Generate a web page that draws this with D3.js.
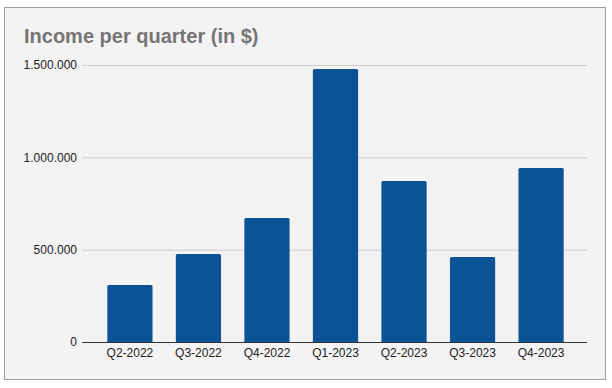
<!DOCTYPE html>
<meta charset="utf-8">
<style>
body {
  margin: 0;
  background: #fff;
  font-family: "Liberation Sans", Arial, sans-serif;
}
.grid line {
  stroke: #cccccc;
  stroke-width: 1px;
}
.tick text {
  fill: #222;
  font-size: 12px;
}
</style>
<body>
<script src="https://cdn.jsdelivr.net/npm/d3@7"></script>
<script>
var width = 612,
    height = 388;

var quarters = ["Q2-2022", "Q3-2022", "Q4-2022", "Q1-2023", "Q2-2023", "Q3-2023", "Q4-2023"];
var income = [309000, 477000, 672000, 1479000, 872000, 460000, 942000];
var yTicks = [0, 500000, 1000000, 1500000];

var margin = {top: 65, right: 25, bottom: 46, left: 84};
var plotW = 587 - margin.left,
    plotH = 342 - margin.top;

var svg = d3.select("body").append("svg")
    .attr("width", width)
    .attr("height", height)
    .style("display", "block");

// panel
svg.append("rect")
    .attr("x", 4.5)
    .attr("y", 7.5)
    .attr("width", 601)
    .attr("height", 372)
    .attr("fill", "#f3f3f3")
    .attr("stroke", "#9e9e9e");

svg.append("text")
    .attr("x", 24)
    .attr("y", 43)
    .attr("fill", "#757575")
    .attr("font-size", "20px")
    .attr("font-weight", "bold")
    .text("Income per quarter (in $)");

var x = d3.scaleBand()
    .domain(quarters)
    .range([0, plotW])
    .padding(0.34);

var y = d3.scaleLinear()
    .domain([0, 1500000])
    .range([plotH, 0]);

var fmt = function(d) { return d3.format(",")(d).replace(/,/g, "."); };

var g = svg.append("g")
    .attr("transform", "translate(" + margin.left + "," + margin.top + ")");

g.append("g")
    .attr("class", "grid")
    .call(d3.axisLeft(y).tickValues(yTicks).tickSize(-plotW).tickFormat(fmt))
    .call(function(a) {
      a.select(".domain").remove();
      a.selectAll(".tick text").attr("x", -7).attr("font-family", null);
      a.selectAll(".tick line").attr("x1", -2);
    });

g.selectAll(".bar")
    .data(income)
  .enter().append("path")
    .attr("class", "bar")
    .attr("fill", "#0b5394")
    .attr("d", function(d, i) {
      var x0 = x(quarters[i]), w = x.bandwidth(), y0 = y(d), r = 1.5;
      return "M" + x0 + "," + plotH +
        "V" + (y0 + r) +
        "Q" + x0 + "," + y0 + " " + (x0 + r) + "," + y0 +
        "H" + (x0 + w - r) +
        "Q" + (x0 + w) + "," + y0 + " " + (x0 + w) + "," + (y0 + r) +
        "V" + plotH + "Z";
    });

g.append("line")
    .attr("x1", -2)
    .attr("x2", plotW)
    .attr("y1", plotH + 0.5)
    .attr("y2", plotH + 0.5)
    .attr("stroke", "#333")
    .attr("stroke-width", 1);

g.append("g")
    .attr("transform", "translate(0," + plotH + ")")
    .call(d3.axisBottom(x).tickSize(0).tickPadding(6))
    .call(function(a) {
      a.select(".domain").remove();
      a.selectAll(".tick text").attr("font-family", null);
    });
</script>
</body>
